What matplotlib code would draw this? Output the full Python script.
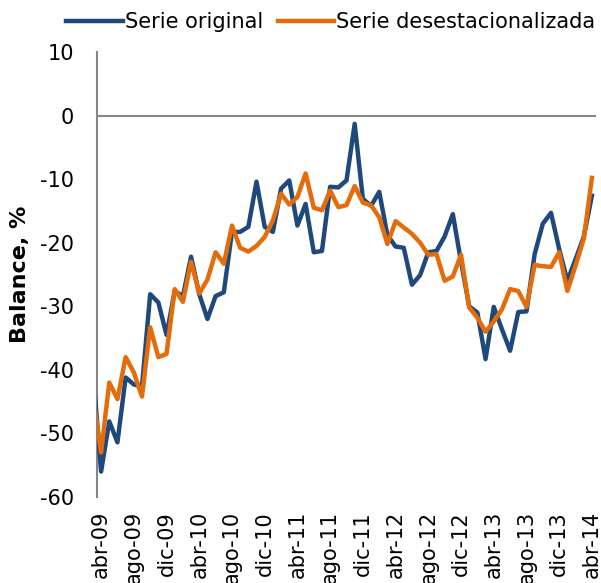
import matplotlib
matplotlib.use("Agg")
import matplotlib.pyplot as plt

plt.rcParams["axes.unicode_minus"] = False

# meses desde mar-09 (fuera del eje) hasta abr-14
original = [
    -40.0,
    -56.0, -48.1, -51.4, -41.2, -42.3, -42.6, -28.1, -29.4, -34.5, -27.6,
    -28.4, -22.2, -28.1, -32.0, -28.4, -27.8, -18.3, -18.3, -17.5, -10.4,
    -17.5, -18.3, -11.5, -10.2, -17.3, -13.9, -21.5, -21.3, -11.2, -11.3,
    -10.2, -1.3, -13.1, -14.2, -12.0, -18.8, -20.6, -20.8, -26.6, -25.1,
    -21.5, -21.3, -19.0, -15.5, -23.0, -30.0, -31.0, -38.3, -30.1, -33.6,
    -37.0, -30.9, -30.8, -21.8, -17.0, -15.3, -21.0, -26.0, -22.6, -19.1,
    -12.6,
]
desestacionalizada = [
    -44.0,
    -53.0, -42.0, -44.6, -38.0, -40.4, -44.2, -33.3, -38.0, -37.5, -27.3,
    -29.3, -23.0, -28.0, -25.8, -21.5, -23.3, -17.3, -20.8, -21.4, -20.5,
    -19.1, -16.5, -12.3, -14.0, -12.8, -9.1, -14.5, -14.9, -11.8, -14.4,
    -14.1, -11.1, -13.7, -14.1, -16.0, -20.2, -16.6, -17.6, -18.6, -20.0,
    -21.9, -21.8, -26.0, -25.3, -21.9, -30.2, -31.8, -34.0, -32.4, -30.5,
    -27.3, -27.6, -30.1, -23.5, -23.7, -23.8, -21.5, -27.6, -23.6, -19.4,
    -9.8,
]
tick_labels = ["abr-09", "ago-09", "dic-09", "abr-10", "ago-10", "dic-10",
               "abr-11", "ago-11", "dic-11", "abr-12", "ago-12", "dic-12",
               "abr-13", "ago-13", "dic-13", "abr-14"]

x = list(range(-1, len(original) - 1))

fig = plt.figure(figsize=(6.01, 5.83), dpi=100)
ax = fig.add_axes([97 / 601, 86 / 583, 499 / 601, 445 / 583])

ax.axhline(0, color="#868686", lw=1.5, zorder=1)
ax.plot(x, original, color="#1F497D", lw=3.2, label="Serie original",
        solid_joinstyle="round", zorder=3)
ax.plot(x, desestacionalizada, color="#E46C0A", lw=3.2,
        label="Serie desestacionalizada", solid_joinstyle="round", zorder=4)

ax.set_xlim(-0.5, 60.5)
ax.set_ylim(-60, 10)
ax.set_yticks(range(-60, 11, 10))
ax.set_xticks(range(0, 61, 4))
ax.set_xticklabels(tick_labels, rotation=90)

for s in ["top", "right", "bottom"]:
    ax.spines[s].set_visible(False)
ax.spines["left"].set_color("#868686")
ax.spines["left"].set_linewidth(1.5)

ax.tick_params(axis="both", length=0, labelsize=15)
ax.tick_params(axis="y", pad=16.5)
ax.tick_params(axis="x", pad=10)

ax.set_ylabel("Balance, %", fontsize=16, fontweight="bold")
ax.yaxis.set_label_coords(-0.135, 0.5)

ax.legend(loc="center right", bbox_to_anchor=(595 / 601, 1 - 22 / 583),
          bbox_transform=fig.transFigure, ncol=2, frameon=False,
          fontsize=15, handlelength=2.7, handletextpad=0.1,
          columnspacing=0.7, borderpad=0, borderaxespad=0)

fig.savefig("out.png", dpi=100)
